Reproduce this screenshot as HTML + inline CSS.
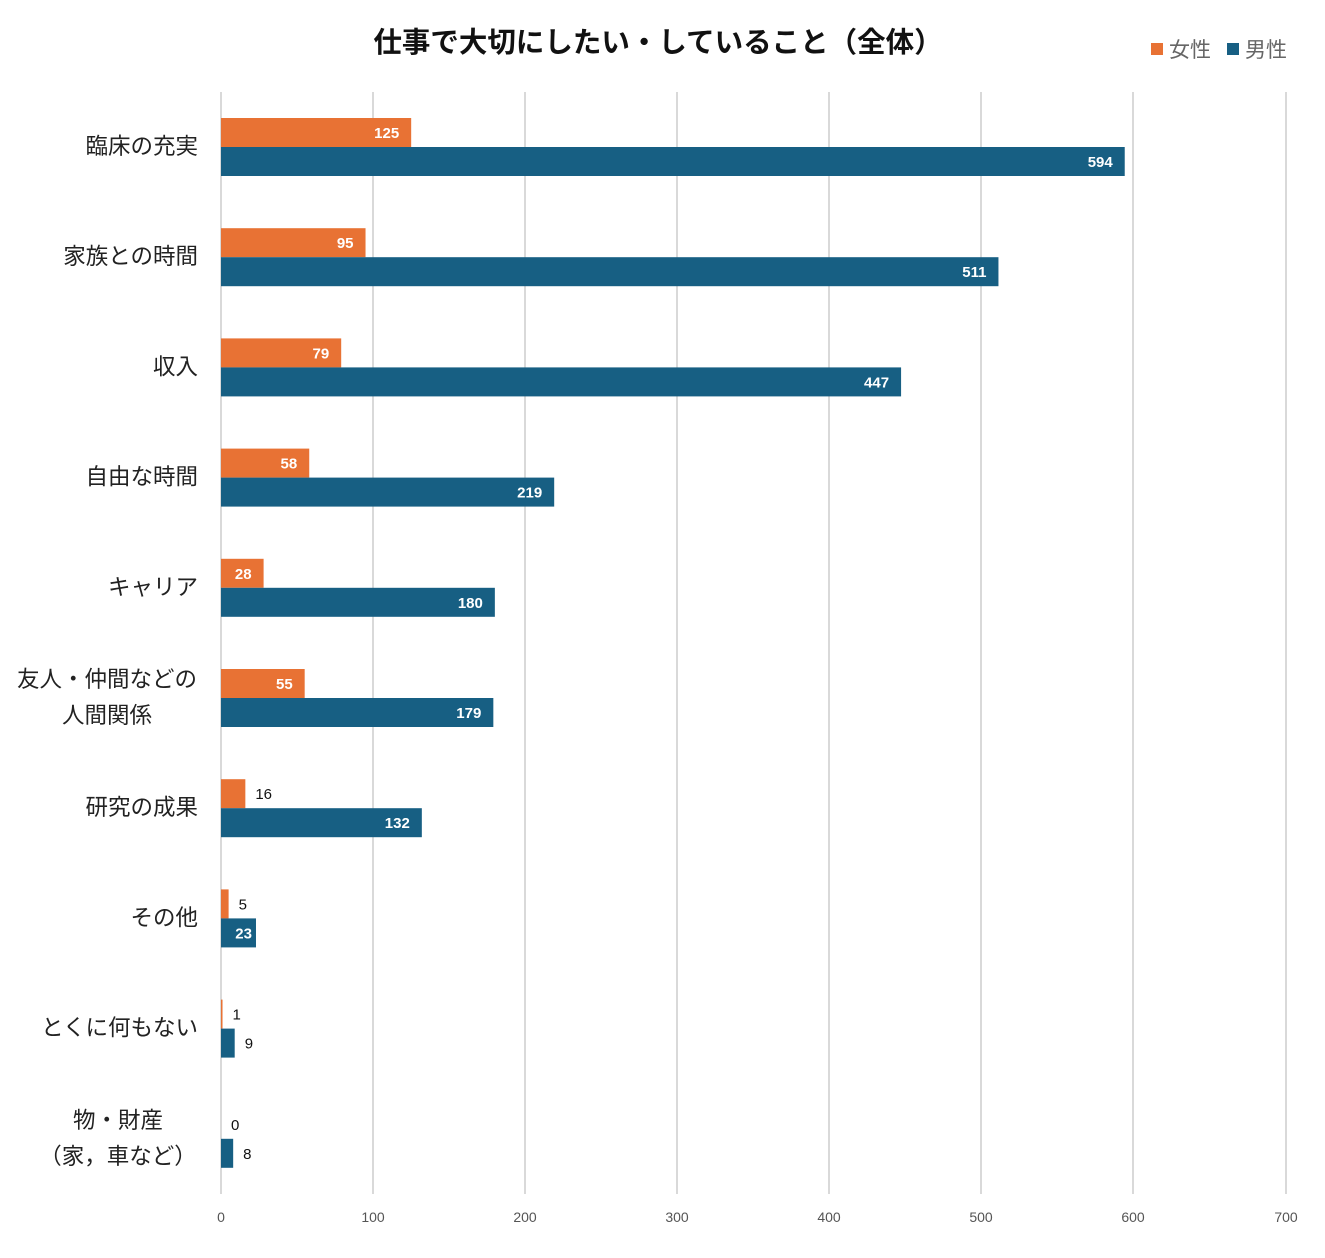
<!DOCTYPE html>
<html><head><meta charset="utf-8"><style>
body{margin:0;background:#fff}
svg text{font-family:"Liberation Sans","Noto Sans CJK JP",sans-serif}
</style></head><body>
<svg width="1325" height="1253" xmlns="http://www.w3.org/2000/svg">
<rect width="1325" height="1253" fill="#fff"/>
<text x="658" y="52" text-anchor="middle" font-size="28.5" font-weight="bold" fill="#111">仕事で大切にしたい・していること（全体）</text>
<rect x="1151" y="43" width="12" height="12" fill="#E87234"/>
<text x="1169" y="57" font-size="21" fill="#666">女性</text>
<rect x="1227" y="43" width="12" height="12" fill="#175F83"/>
<text x="1245" y="57" font-size="21" fill="#666">男性</text>
<g stroke="#d9d9d9" stroke-width="2">
<line x1="373" y1="92" x2="373" y2="1194"/><line x1="525" y1="92" x2="525" y2="1194"/>
<line x1="677" y1="92" x2="677" y2="1194"/><line x1="829" y1="92" x2="829" y2="1194"/>
<line x1="981" y1="92" x2="981" y2="1194"/><line x1="1133" y1="92" x2="1133" y2="1194"/>
<line x1="1286" y1="92" x2="1286" y2="1194"/><line x1="221" y1="92" x2="221" y2="1194"/>
</g>
<g font-size="14" fill="#555" text-anchor="middle">
<text x="221" y="1222">0</text><text x="373" y="1222">100</text><text x="525" y="1222">200</text>
<text x="677" y="1222">300</text><text x="829" y="1222">400</text><text x="981" y="1222">500</text>
<text x="1133" y="1222">600</text><text x="1286" y="1222">700</text>
</g>
<g id="bars"></g>
<g font-size="22.5" fill="#222" text-anchor="end" id="cats"></g>
<script>
var d=[["臨床の充実",125,594],["家族との時間",95,511],["収入",79,447],["自由な時間",58,219],["キャリア",28,180],[["友人・仲間などの","人間関係"],55,179],["研究の成果",16,132],["その他",5,23],["とくに何もない",1,9],[["物・財産","（家，車など）"],0,8]];
var NS="http://www.w3.org/2000/svg",g=document.getElementById("bars"),c=document.getElementById("cats");
function el(p,t,a,tx){var e=document.createElementNS(NS,t);for(var k in a)e.setAttribute(k,a[k]);if(tx!=null)e.textContent=tx;p.appendChild(e);return e;}
var s=1065/700;
d.forEach(function(r,i){
 var y=118+i*110.2;
 [[r[1],"#E87234",y],[r[2],"#175F83",y+29]].forEach(function(b){
  var w=b[0]*s;
  if(w>0)el(g,"rect",{x:221,y:b[2],width:w,height:29,fill:b[1]});
  var inside=w>30;
  el(g,"text",{x:inside?221+w-(w<40?4:12):221+w+10,y:b[2]+20,"font-size":15,"font-weight":inside?"bold":"normal",fill:inside?"#fff":"#111","text-anchor":inside?"end":"start"},b[0]);
 });
 var cy=y+29;
 if(typeof r[0]=="string")el(c,"text",{x:198,y:cy+7},r[0]);
 else{
  var cx=i==9?118:107;
  el(c,"text",{x:cx,y:cy-11,"text-anchor":"middle"},r[0][0]);
  el(c,"text",{x:cx,y:cy+25,"text-anchor":"middle"},r[0][1]);
 }
});
</script>
</svg>
</body></html>
